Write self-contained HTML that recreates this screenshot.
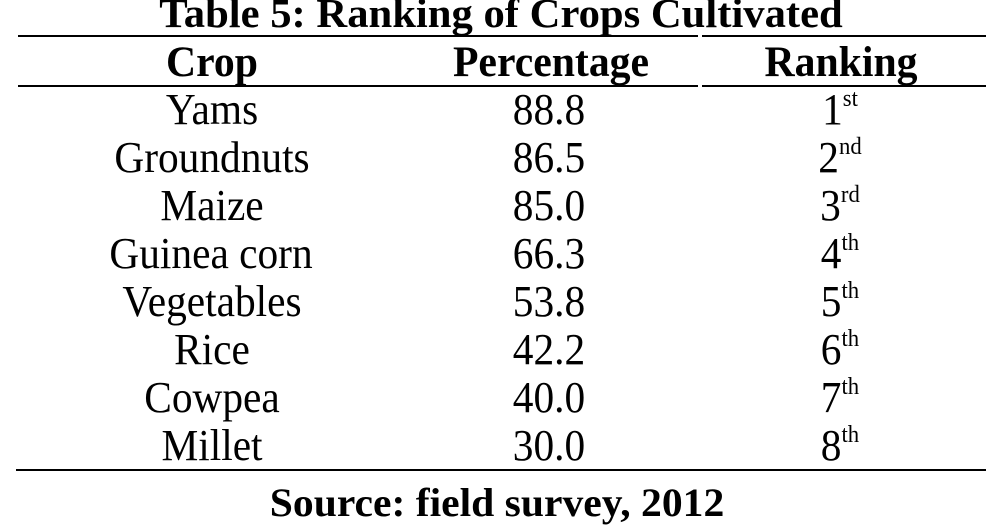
<!DOCTYPE html>
<html><head><style>
html,body{margin:0;padding:0;background:#fff;}
body{width:994px;height:497px;position:relative;overflow:hidden;font-family:"Liberation Serif",serif;color:#000;}
.t{position:absolute;white-space:nowrap;transform:translateX(-50%) scaleX(0.94);transform-origin:center;line-height:1;}
.b{font-weight:bold;}
.l{position:absolute;height:2px;background:#000;}
sup{font-size:0.55em;vertical-align:0;position:relative;top:-0.75em;}
</style></head><body>
<div class="t b" style="left:501px;top:-7px;font-size:41px;transform:translateX(-50%) scaleX(1.04);">Table 5: Ranking of Crops Cultivated</div>
<div class="l" style="left:18px;top:35px;width:680px;"></div>
<div class="l" style="left:702px;top:35px;width:284px;"></div>
<div class="t b" style="left:212px;top:41px;font-size:43px;transform:translateX(-50%) scaleX(0.97);">Crop</div>
<div class="t b" style="left:551px;top:41px;font-size:43px;transform:translateX(-50%) scaleX(0.97);">Percentage</div>
<div class="t b" style="left:841px;top:41px;font-size:43px;transform:translateX(-50%) scaleX(0.97);">Ranking</div>
<div class="l" style="left:18px;top:85px;width:680px;"></div>
<div class="l" style="left:702px;top:85px;width:284px;"></div>

<div class="t" style="left:212px;top:88px;font-size:44px;">Yams</div>
<div class="t" style="left:549px;top:88px;font-size:44px;">88.8</div>
<div class="t" style="left:840px;top:88px;font-size:44px;">1<sup>st</sup></div>

<div class="t" style="left:212px;top:136px;font-size:44px;">Groundnuts</div>
<div class="t" style="left:549px;top:136px;font-size:44px;">86.5</div>
<div class="t" style="left:840px;top:136px;font-size:44px;">2<sup>nd</sup></div>

<div class="t" style="left:212px;top:184px;font-size:44px;">Maize</div>
<div class="t" style="left:549px;top:184px;font-size:44px;">85.0</div>
<div class="t" style="left:840px;top:184px;font-size:44px;">3<sup>rd</sup></div>

<div class="t" style="left:211px;top:232px;font-size:44px;">Guinea corn</div>
<div class="t" style="left:549px;top:232px;font-size:44px;">66.3</div>
<div class="t" style="left:840px;top:232px;font-size:44px;">4<sup>th</sup></div>

<div class="t" style="left:212px;top:280px;font-size:44px;">Vegetables</div>
<div class="t" style="left:549px;top:280px;font-size:44px;">53.8</div>
<div class="t" style="left:840px;top:280px;font-size:44px;">5<sup>th</sup></div>

<div class="t" style="left:212px;top:328px;font-size:44px;">Rice</div>
<div class="t" style="left:549px;top:328px;font-size:44px;">42.2</div>
<div class="t" style="left:840px;top:328px;font-size:44px;">6<sup>th</sup></div>

<div class="t" style="left:212px;top:376px;font-size:44px;">Cowpea</div>
<div class="t" style="left:549px;top:376px;font-size:44px;">40.0</div>
<div class="t" style="left:840px;top:376px;font-size:44px;">7<sup>th</sup></div>

<div class="t" style="left:212px;top:424px;font-size:44px;">Millet</div>
<div class="t" style="left:549px;top:424px;font-size:44px;">30.0</div>
<div class="t" style="left:840px;top:424px;font-size:44px;">8<sup>th</sup></div>

<div class="l" style="left:16px;top:469px;width:970px;"></div>
<div class="t b" style="left:497px;top:483px;font-size:40px;transform:translateX(-50%) scaleX(1.04);">Source: field survey, 2012</div>
</body></html>
